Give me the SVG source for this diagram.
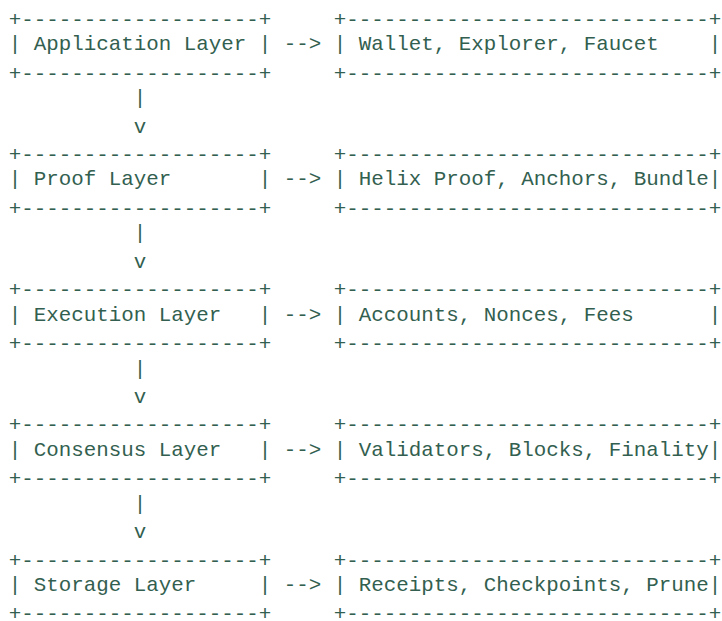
<svg xmlns="http://www.w3.org/2000/svg" width="722" height="621" viewBox="0 0 722 621">
<style>
text{font-family:"Liberation Mono","Courier New",monospace;font-size:20.83px;fill:#335f50;white-space:pre}
</style>
<rect width="722" height="621" fill="#ffffff"/>
<g id="application-layer">
<text x="8.75" y="25.5" xml:space="preserve">+-------------------+</text>
<text x="8.75" y="50.05" xml:space="preserve">| Application Layer |</text>
<text x="8.75" y="79.6" xml:space="preserve">+-------------------+</text>
</g>
<g id="application-detail">
<text x="333.75" y="25.5" xml:space="preserve">+-----------------------------+</text>
<text x="333.75" y="50.05" xml:space="preserve">| Wallet, Explorer, Faucet    |</text>
<text x="333.75" y="79.6" xml:space="preserve">+-----------------------------+</text>
</g>
<g id="proof-layer">
<text x="8.75" y="160.75" xml:space="preserve">+-------------------+</text>
<text x="8.75" y="185.3" xml:space="preserve">| Proof Layer       |</text>
<text x="8.75" y="214.85" xml:space="preserve">+-------------------+</text>
</g>
<g id="proof-detail">
<text x="333.75" y="160.75" xml:space="preserve">+-----------------------------+</text>
<text x="333.75" y="185.3" xml:space="preserve">| Helix Proof, Anchors, Bundle|</text>
<text x="333.75" y="214.85" xml:space="preserve">+-----------------------------+</text>
</g>
<g id="execution-layer">
<text x="8.75" y="296" xml:space="preserve">+-------------------+</text>
<text x="8.75" y="320.55" xml:space="preserve">| Execution Layer   |</text>
<text x="8.75" y="350.1" xml:space="preserve">+-------------------+</text>
</g>
<g id="execution-detail">
<text x="333.75" y="296" xml:space="preserve">+-----------------------------+</text>
<text x="333.75" y="320.55" xml:space="preserve">| Accounts, Nonces, Fees      |</text>
<text x="333.75" y="350.1" xml:space="preserve">+-----------------------------+</text>
</g>
<g id="consensus-layer">
<text x="8.75" y="431.25" xml:space="preserve">+-------------------+</text>
<text x="8.75" y="455.8" xml:space="preserve">| Consensus Layer   |</text>
<text x="8.75" y="485.35" xml:space="preserve">+-------------------+</text>
</g>
<g id="consensus-detail">
<text x="333.75" y="431.25" xml:space="preserve">+-----------------------------+</text>
<text x="333.75" y="455.8" xml:space="preserve">| Validators, Blocks, Finality|</text>
<text x="333.75" y="485.35" xml:space="preserve">+-----------------------------+</text>
</g>
<g id="storage-layer">
<text x="8.75" y="566.5" xml:space="preserve">+-------------------+</text>
<text x="8.75" y="591.05" xml:space="preserve">| Storage Layer     |</text>
<text x="8.75" y="620" xml:space="preserve">+-------------------+</text>
</g>
<g id="storage-detail">
<text x="333.75" y="566.5" xml:space="preserve">+-----------------------------+</text>
<text x="333.75" y="591.05" xml:space="preserve">| Receipts, Checkpoints, Prune|</text>
<text x="333.75" y="620" xml:space="preserve">+-----------------------------+</text>
</g>
<g id="connectors">
<text x="283.75" y="50.05">--&gt;</text>
<text x="283.75" y="185.3">--&gt;</text>
<text x="283.75" y="320.55">--&gt;</text>
<text x="283.75" y="455.8">--&gt;</text>
<text x="283.75" y="591.05">--&gt;</text>
<text x="133.75" y="104.15">|</text>
<text x="133.75" y="132.5">v</text>
<text x="133.75" y="239.4">|</text>
<text x="133.75" y="267.75">v</text>
<text x="133.75" y="374.65">|</text>
<text x="133.75" y="403">v</text>
<text x="133.75" y="509.9">|</text>
<text x="133.75" y="538.25">v</text>
</g>
</svg>
